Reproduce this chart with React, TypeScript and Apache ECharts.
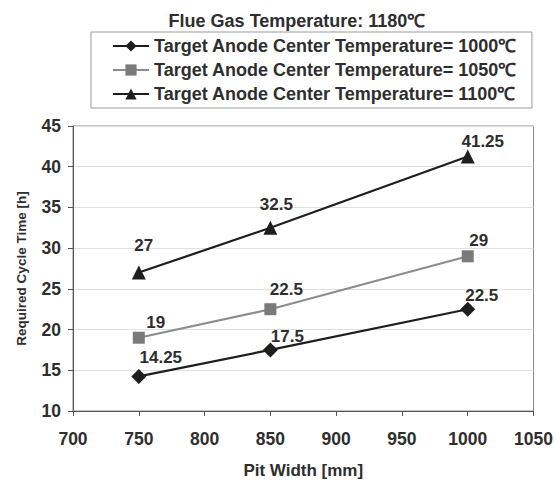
import React, { useEffect, useRef } from "react";
import * as echarts from "echarts";

const pitWidths = [750, 850, 1000];
const series1000 = [14.25, 17.5, 22.5];
const series1050 = [19, 22.5, 29];
const series1100 = [27, 32.5, 41.25];
const seriesNames = [
  "Target Anode Center Temperature= 1000\u2103",
  "Target Anode Center Temperature= 1050\u2103",
  "Target Anode Center Temperature= 1100\u2103",
];
const titleText = "Flue Gas Temperature: 1180\u2103";

const labelOffsets1000 = [[22, -19], [17, -13], [14, -14]];
const labelOffsets1050 = [[17, -15], [16, -20], [11, -16]];
const labelOffsets1100 = [[5, -27], [6, -23], [15, -15]];

const FONT = "'Liberation Sans', Arial, sans-serif";
const TXT = "#2e2e2e";

function buildData(vals: number[], offs: number[][]) {
  return vals.map((v, i) => ({
    value: [pitWidths[i], v],
    label: { offset: offs[i] },
  }));
}

export default function App() {
  const ref = useRef<HTMLDivElement>(null);
  useEffect(() => {
    if (!ref.current) return;
    const chart = echarts.init(ref.current, undefined, { renderer: "svg" });
    const labelCommon = {
      show: true,
      position: "inside",
      fontFamily: FONT,
      fontSize: 17,
      fontWeight: "bold",
      color: TXT,
      formatter: (p: any) => String(p.value[1]),
    };
    const mk = (name: string, data: any[], symbol: string, size: number, color: string, lineColor: string) => ({
      name,
      type: "line",
      data,
      symbol,
      symbolSize: size,
      lineStyle: { color: lineColor, width: 2.2 },
      itemStyle: { color },
      label: labelCommon,
      z: 3,
    });
    chart.setOption({
      animation: false,
      backgroundColor: "#ffffff",
      title: {
        text: titleText,
        left: 292,
        top: 7,
        textAlign: "center",
        textStyle: { fontFamily: FONT, fontSize: 18, fontWeight: "bold", color: TXT },
      },
      legend: {
        orient: "vertical",
        left: 91,
        top: 32,
        padding: [5, 15, 5, 21],
        itemGap: 6,
        itemWidth: 36,
        itemHeight: 14,
        borderColor: "#9a9a9a",
        borderWidth: 1,
        textStyle: { fontFamily: FONT, fontSize: 18, fontWeight: "bold", color: TXT },
        data: seriesNames,
      },
      grid: {
        left: 73,
        right: 21,
        top: 126,
        bottom: 72,
        show: true,
        borderColor: "#8a8a8a",
        borderWidth: 1,
        backgroundColor: "#ffffff",
      },
      xAxis: {
        type: "value",
        min: 700,
        max: 1050,
        interval: 50,
        name: "Pit Width [mm]",
        nameLocation: "middle",
        nameGap: 51,
        nameTextStyle: { fontFamily: FONT, fontSize: 17, fontWeight: "bold", color: TXT },
        axisLine: { show: true, lineStyle: { color: "#555" } },
        axisTick: { show: true, length: 5, lineStyle: { color: "#555" } },
        axisLabel: {
          fontFamily: FONT, fontSize: 17.5, fontWeight: "bold", color: TXT, margin: 19,
          formatter: (v: number) => String(v),
        },
        splitLine: { show: false },
      },
      yAxis: {
        type: "value",
        min: 10,
        max: 45,
        interval: 5,
        name: "Required Cycle Time [h]",
        nameLocation: "middle",
        nameGap: 45,
        nameTextStyle: { fontFamily: FONT, fontSize: 13.5, fontWeight: "bold", color: TXT },
        axisLine: { show: true, lineStyle: { color: "#555" } },
        axisTick: { show: true, length: 5, lineStyle: { color: "#555" } },
        axisLabel: { fontFamily: FONT, fontSize: 17.5, fontWeight: "bold", color: TXT, margin: 12 },
        splitLine: { show: true, lineStyle: { color: "#e0e0e0", width: 1 } },
      },
      series: [
        mk(seriesNames[0], buildData(series1000, labelOffsets1000), "diamond", 15, "#1e1e1e", "#1e1e1e"),
        mk(seriesNames[1], buildData(series1050, labelOffsets1050), "rect", 12, "#7a7a7a", "#8c8c8c"),
        mk(seriesNames[2], buildData(series1100, labelOffsets1100), "triangle", 14, "#1e1e1e", "#1e1e1e"),
      ],
    });
    return () => chart.dispose();
  }, []);
  return <div ref={ref} style={{ position: "fixed", left: 0, top: 0, width: 556, height: 484 }} />;
}
